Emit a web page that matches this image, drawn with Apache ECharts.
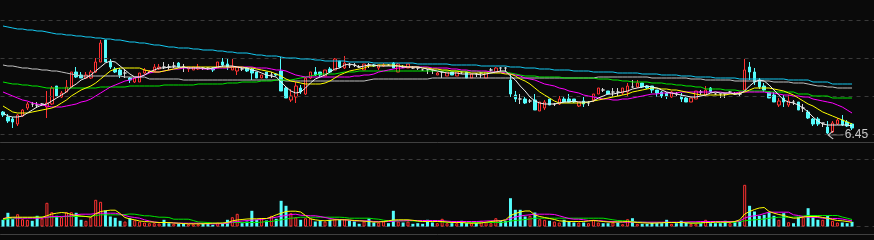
<!DOCTYPE html>
<html><head><meta charset="utf-8">
<script src="https://cdn.jsdelivr.net/npm/echarts@6/dist/echarts.min.js"></script>
<style>html,body{margin:0;padding:0;background:#0a0a0a;overflow:hidden}#c{width:874px;height:240px}</style>
</head><body><div id="c"></div>
<script>
// ---- data: [open, close, low, high] ----
const candles = [
[6.68,6.65,6.63,6.69],[6.63,6.59,6.57,6.66],[6.61,6.58,6.52,6.63],[6.56,6.65,6.54,6.66],[6.64,6.70,6.63,6.71],
[6.72,6.76,6.70,6.78],[6.76,6.76,6.73,6.78],[6.75,6.75,6.72,6.78],[6.76,6.76,6.74,6.77],[6.73,6.77,6.62,6.89],
[6.76,6.92,6.75,6.94],[6.94,6.84,6.84,6.94],[6.83,6.87,6.82,6.89],[6.88,6.93,6.88,7.00],[6.93,7.08,6.93,7.08],
[7.08,7.03,7.02,7.13],[7.05,7.02,7.02,7.08],[7.02,7.05,7.01,7.08],[7.02,7.08,7.01,7.10],[7.08,7.18,7.07,7.22],
[7.18,7.37,7.18,7.40],[7.40,7.18,7.18,7.40],[7.18,7.13,7.11,7.21],[7.11,7.08,7.07,7.13],[7.10,7.05,7.02,7.12],
[7.07,7.07,7.02,7.11],[7.02,7.00,6.97,7.03],[6.98,7.02,6.97,7.02],[6.98,7.07,6.98,7.07],[7.07,7.10,7.06,7.12],
[7.08,7.09,7.07,7.10],[7.09,7.13,7.08,7.16],[7.11,7.13,7.10,7.16],[7.13,7.13,7.11,7.18],[7.13,7.13,7.10,7.16],
[7.14,7.14,7.12,7.18],[7.17,7.13,7.12,7.18],[7.13,7.13,7.08,7.16],[7.11,7.13,7.08,7.13],[7.10,7.13,7.10,7.13],
[7.11,7.13,7.10,7.16],[7.12,7.12,7.10,7.13],[7.12,7.12,7.10,7.13],[7.12,7.10,7.08,7.13],[7.12,7.18,7.12,7.18],
[7.18,7.15,7.13,7.22],[7.16,7.13,7.10,7.22],[7.10,7.13,7.10,7.21],[7.09,7.13,7.05,7.13],[7.11,7.11,7.09,7.13],
[7.12,7.09,7.08,7.13],[7.11,7.07,7.00,7.12],[7.08,7.02,7.02,7.08],[7.02,7.05,7.02,7.05],[7.08,7.02,7.02,7.08],
[7.05,7.05,7.02,7.08],[7.06,7.05,7.04,7.07],[7.09,6.89,6.89,7.23],[6.92,6.82,6.82,6.93],[6.80,6.84,6.78,6.91],
[6.83,6.94,6.77,6.98],[6.92,6.88,6.86,6.95],[6.86,7.02,6.85,7.03],[7.02,7.08,7.01,7.08],[7.08,7.05,7.04,7.13],
[7.08,7.05,7.03,7.08],[7.04,7.10,7.04,7.10],[7.11,7.08,7.07,7.13],[7.10,7.21,7.10,7.22],[7.19,7.13,7.12,7.19],
[7.12,7.17,7.11,7.24],[7.15,7.15,7.12,7.17],[7.15,7.15,7.13,7.17],[7.13,7.13,7.12,7.15],[7.10,7.16,7.10,7.16],
[7.15,7.15,7.12,7.17],[7.15,7.14,7.13,7.16],[7.12,7.15,7.10,7.15],[7.14,7.15,7.13,7.17],[7.15,7.15,7.14,7.16],
[7.17,7.12,7.12,7.18],[7.08,7.16,7.08,7.17],[7.13,7.13,7.12,7.15],[7.12,7.16,7.12,7.16],[7.12,7.12,7.11,7.14],
[7.12,7.12,7.10,7.12],[7.10,7.10,7.09,7.11],[7.10,7.10,7.06,7.11],[7.10,7.10,7.06,7.10],[7.05,7.07,7.05,7.08],
[7.08,7.08,7.02,7.09],[7.04,7.08,7.04,7.08],[7.08,7.05,7.05,7.08],[7.04,7.08,7.04,7.08],[7.08,7.08,7.06,7.09],
[7.08,7.02,7.02,7.08],[7.02,7.06,7.02,7.06],[7.06,7.06,7.03,7.07],[7.07,7.07,7.02,7.08],[7.02,7.08,7.02,7.08],
[7.10,7.10,7.08,7.12],[7.08,7.12,7.08,7.13],[7.12,7.12,7.08,7.13],[7.12,7.12,7.08,7.13],[7.00,6.86,6.83,7.06],
[6.85,6.81,6.78,6.89],[6.81,6.81,6.76,6.86],[6.81,6.77,6.76,6.83],[6.79,6.79,6.77,6.81],[6.80,6.70,6.70,6.86],
[6.69,6.78,6.69,6.78],[6.72,6.78,6.70,6.80],[6.81,6.75,6.75,6.81],[6.76,6.76,6.74,6.77],[6.76,6.81,6.75,6.84],
[6.81,6.78,6.78,6.84],[6.81,6.78,6.78,6.86],[6.81,6.78,6.77,6.81],[6.74,6.78,6.73,6.78],[6.79,6.76,6.73,6.83],
[6.77,6.77,6.74,6.79],[6.80,6.86,6.78,6.86],[6.86,6.92,6.86,6.92],[6.90,6.90,6.88,6.92],[6.89,6.86,6.86,6.89],
[6.88,6.88,6.83,6.92],[6.88,6.88,6.83,6.92],[6.87,6.92,6.85,6.92],[6.88,6.94,6.84,6.97],[6.93,6.93,6.92,7.00],
[6.93,6.97,6.92,7.00],[6.97,6.93,6.92,6.97],[6.94,6.92,6.91,6.95],[6.94,6.90,6.87,6.94],[6.90,6.87,6.83,6.90],
[6.88,6.84,6.82,6.89],[6.87,6.84,6.81,6.88],[6.83,6.88,6.82,6.89],[6.86,6.86,6.84,6.88],[6.84,6.81,6.78,6.87],
[6.82,6.78,6.78,6.83],[6.78,6.82,6.78,6.82],[6.81,6.89,6.81,6.89],[6.88,6.88,6.85,6.90],[6.85,6.90,6.83,6.94],
[6.92,6.88,6.87,6.93],[6.86,6.86,6.85,6.87],[6.86,6.86,6.82,6.86],[6.86,6.86,6.82,6.86],[6.88,6.88,6.87,6.89],
[6.86,6.86,6.85,6.88],[6.86,6.86,6.84,6.88],[6.90,7.10,6.90,7.21],[7.13,7.08,7.00,7.18],[7.08,6.98,6.95,7.12],
[7.00,6.93,6.91,7.02],[6.94,6.90,6.88,6.97],[6.88,6.82,6.82,6.88],[6.85,6.78,6.78,6.88],[6.75,6.79,6.73,6.82],
[6.82,6.78,6.73,6.85],[6.75,6.79,6.73,6.85],[6.78,6.78,6.75,6.80],[6.78,6.70,6.70,6.78],[6.72,6.72,6.68,6.76],
[6.68,6.62,6.61,6.70],[6.61,6.56,6.54,6.62],[6.61,6.56,6.54,6.63],[6.57,6.57,6.53,6.57],[6.53,6.47,6.45,6.59],
[6.48,6.57,6.47,6.59],[6.56,6.60,6.55,6.62],[6.60,6.55,6.54,6.65],[6.58,6.54,6.53,6.60],[6.56,6.52,6.50,6.57]
];
const ma5 = [
6.67,6.64,6.63,6.63,6.64,6.67,6.70,6.73,6.75,6.76,6.79,6.82,6.85,6.88,6.93,6.96,7.00,7.02,7.05,7.09,7.13,7.17,7.19,7.18,7.14,
7.10,7.06,7.03,7.03,7.05,7.08,7.10,7.12,7.12,7.13,7.13,7.13,7.13,7.12,7.12,7.12,7.12,7.11,7.12,7.13,7.14,7.14,7.14,7.13,7.12,
7.12,7.10,7.09,7.07,7.05,7.04,7.03,6.98,6.93,6.89,6.87,6.88,6.92,6.97,7.01,7.03,7.05,7.08,7.11,7.12,7.15,7.16,7.15,7.13,7.14,
7.15,7.15,7.14,7.14,7.14,7.14,7.14,7.13,7.13,7.13,7.13,7.12,7.11,7.10,7.09,7.08,7.07,7.07,7.07,7.06,7.06,7.06,7.06,7.05,7.06,
7.07,7.08,7.09,7.09,7.04,7.00,6.94,6.89,6.83,6.79,6.77,6.76,6.76,6.76,6.77,6.78,6.78,6.79,6.78,6.78,6.78,6.79,6.82,6.84,6.86,
6.86,6.87,6.88,6.89,6.91,6.92,6.93,6.94,6.93,6.92,6.90,6.88,6.87,6.86,6.85,6.84,6.83,6.83,6.84,6.85,6.87,6.88,6.87,6.87,6.87,
6.86,6.86,6.89,6.94,6.98,7.00,6.99,6.95,6.90,6.85,6.80,6.78,6.77,6.75,6.72,6.68,6.63,6.59,6.56,6.55,6.55,6.55,6.55,6.55,6.54];
const ma10 = [
6.74,6.71,6.68,6.67,6.67,6.67,6.68,6.69,6.70,6.71,6.72,6.74,6.77,6.80,6.84,6.87,6.90,6.92,6.94,6.97,7.01,7.05,7.09,7.11,7.12,
7.12,7.12,7.12,7.12,7.10,7.09,7.08,7.08,7.09,7.10,7.11,7.12,7.13,7.13,7.13,7.13,7.13,7.13,7.13,7.13,7.13,7.13,7.13,7.13,7.13,
7.12,7.12,7.11,7.10,7.09,7.08,7.06,7.04,7.01,6.99,6.98,6.97,6.96,6.96,6.96,6.96,6.97,6.99,7.02,7.05,7.07,7.09,7.10,7.11,7.12,
7.14,7.14,7.15,7.15,7.15,7.15,7.14,7.14,7.13,7.13,7.13,7.12,7.12,7.11,7.11,7.10,7.10,7.09,7.09,7.08,7.08,7.07,7.07,7.07,7.07,
7.07,7.07,7.07,7.06,7.06,7.04,7.01,6.99,6.96,6.92,6.88,6.85,6.82,6.79,6.77,6.77,6.77,6.77,6.77,6.77,6.78,6.79,6.80,6.81,6.82,
6.83,6.84,6.85,6.86,6.88,6.89,6.90,6.91,6.92,6.92,6.91,6.91,6.90,6.90,6.89,6.88,6.87,6.86,6.85,6.85,6.85,6.85,6.85,6.85,6.86,
6.86,6.87,6.88,6.90,6.92,6.92,6.92,6.92,6.91,6.90,6.89,6.87,6.85,6.82,6.79,6.76,6.74,6.71,6.68,6.66,6.64,6.62,6.60,6.58,6.56];
const ma20 = [
6.88,6.86,6.84,6.82,6.80,6.79,6.77,6.76,6.75,6.74,6.73,6.73,6.73,6.74,6.75,6.76,6.78,6.79,6.81,6.84,6.87,6.90,6.93,6.95,6.97,
6.99,7.00,7.02,7.03,7.05,7.07,7.08,7.08,7.09,7.10,7.11,7.11,7.12,7.12,7.12,7.12,7.11,7.11,7.11,7.12,7.12,7.12,7.13,7.13,7.13,
7.13,7.13,7.12,7.12,7.12,7.11,7.10,7.10,7.09,7.07,7.05,7.04,7.03,7.03,7.03,7.03,7.03,7.03,7.03,7.03,7.03,7.03,7.04,7.04,7.05,
7.05,7.06,7.08,7.09,7.10,7.11,7.12,7.12,7.13,7.13,7.13,7.13,7.13,7.12,7.12,7.12,7.12,7.11,7.11,7.10,7.10,7.09,7.09,7.09,7.09,
7.08,7.08,7.08,7.07,7.06,7.05,7.04,7.02,7.01,7.00,6.98,6.96,6.95,6.94,6.92,6.91,6.89,6.88,6.87,6.85,6.84,6.83,6.82,6.81,6.81,
6.80,6.80,6.81,6.81,6.82,6.83,6.84,6.85,6.86,6.86,6.87,6.87,6.87,6.87,6.88,6.88,6.88,6.88,6.88,6.88,6.88,6.88,6.88,6.87,6.87,
6.87,6.88,6.88,6.88,6.88,6.88,6.88,6.87,6.87,6.86,6.85,6.85,6.84,6.84,6.83,6.83,6.81,6.80,6.79,6.78,6.77,6.75,6.73,6.70,6.67];
const ma60 = [
6.98,6.97,6.96,6.96,6.95,6.95,6.94,6.94,6.93,6.92,6.92,6.92,6.92,6.92,6.92,6.92,6.92,6.92,6.92,6.92,6.93,6.93,6.93,6.93,6.93,
6.93,6.94,6.94,6.94,6.94,6.94,6.94,6.94,6.95,6.95,6.95,6.95,6.95,6.95,6.95,6.96,6.96,6.96,6.96,6.96,6.96,6.97,6.97,6.97,6.98,
6.98,6.98,6.98,6.99,6.99,6.99,7.00,7.00,7.00,7.00,7.01,7.02,7.03,7.04,7.05,7.06,7.06,7.06,7.06,7.07,7.08,7.08,7.08,7.09,7.09,
7.09,7.09,7.09,7.09,7.09,7.09,7.09,7.09,7.09,7.09,7.09,7.09,7.09,7.09,7.09,7.09,7.09,7.09,7.09,7.09,7.09,7.09,7.09,7.08,7.08,
7.08,7.08,7.08,7.08,7.07,7.06,7.05,7.04,7.04,7.04,7.03,7.03,7.03,7.03,7.03,7.02,7.02,7.02,7.02,7.02,7.02,7.02,7.01,7.01,7.01,
7.00,7.00,6.99,6.99,6.98,6.98,6.98,6.98,6.97,6.97,6.97,6.96,6.96,6.95,6.95,6.94,6.94,6.93,6.93,6.91,6.91,6.91,6.91,6.90,6.90,
6.90,6.89,6.89,6.89,6.89,6.89,6.89,6.88,6.88,6.88,6.88,6.88,6.88,6.86,6.86,6.86,6.84,6.84,6.84,6.84,6.82,6.82,6.82,6.82,6.82];
const ma120 = [
7.15,7.14,7.14,7.13,7.12,7.12,7.11,7.11,7.10,7.10,7.09,7.09,7.08,7.07,7.06,7.05,7.04,7.04,7.04,7.04,7.04,7.04,7.04,7.04,7.04,
7.03,7.03,7.03,7.03,7.03,7.01,7.01,7.01,7.01,7.01,7.01,7.01,7.00,7.00,7.00,7.00,7.00,7.00,7.00,7.00,7.00,7.00,7.00,7.00,7.00,
7.00,7.00,7.00,7.00,7.00,7.00,7.00,7.00,6.99,6.99,6.99,6.99,6.99,6.99,6.99,6.99,6.99,6.99,6.99,6.99,6.99,6.99,6.99,6.99,6.99,
7.00,7.01,7.01,7.01,7.01,7.01,7.01,7.01,7.01,7.01,7.01,7.01,7.01,7.02,7.02,7.02,7.02,7.02,7.02,7.02,7.02,7.02,7.02,7.02,7.02,
7.02,7.02,7.02,7.02,7.02,7.02,7.02,7.02,7.02,7.02,7.02,7.02,7.02,7.02,7.02,7.02,7.02,7.02,7.02,7.02,7.02,7.02,7.03,7.03,7.03,
7.03,7.03,7.03,7.03,7.03,7.03,7.03,7.03,7.02,7.02,7.02,7.02,7.02,7.02,7.02,7.02,7.01,7.01,7.01,7.00,7.00,7.00,7.00,7.00,7.00,
6.99,6.99,6.99,6.99,6.99,6.99,6.99,6.99,6.98,6.98,6.98,6.98,6.97,6.97,6.97,6.96,6.95,6.94,6.94,6.93,6.93,6.92,6.92,6.92,6.92];
const ma250 = [
7.54,7.53,7.52,7.51,7.51,7.50,7.50,7.49,7.49,7.48,7.47,7.46,7.46,7.45,7.45,7.44,7.44,7.43,7.43,7.42,7.42,7.41,7.41,7.40,7.40,
7.39,7.38,7.38,7.37,7.37,7.36,7.35,7.35,7.34,7.33,7.33,7.32,7.32,7.32,7.31,7.31,7.30,7.30,7.30,7.29,7.29,7.28,7.28,7.27,7.27,
7.27,7.26,7.25,7.25,7.24,7.24,7.24,7.23,7.22,7.22,7.22,7.21,7.21,7.21,7.20,7.20,7.19,7.19,7.19,7.19,7.19,7.18,7.18,7.18,7.18,
7.18,7.17,7.17,7.17,7.17,7.17,7.17,7.17,7.17,7.17,7.16,7.16,7.16,7.16,7.16,7.16,7.16,7.15,7.15,7.15,7.15,7.15,7.15,7.14,7.14,
7.14,7.14,7.14,7.14,7.13,7.13,7.13,7.12,7.12,7.12,7.11,7.11,7.11,7.10,7.10,7.10,7.10,7.09,7.09,7.09,7.09,7.08,7.08,7.08,7.08,
7.08,7.07,7.07,7.07,7.07,7.07,7.06,7.06,7.06,7.06,7.05,7.05,7.05,7.05,7.04,7.04,7.04,7.03,7.03,7.03,7.03,7.02,7.02,7.02,7.02,
7.02,7.01,7.01,7.01,7.01,7.01,7.01,7.01,7.01,7.01,7.01,7.00,7.00,7.00,7.00,7.00,6.98,6.98,6.98,6.98,6.96,6.96,6.96,6.96,6.96];
const volume = [
6.7,13.7,7.3,12.3,7.3,6.7,5.7,10.7,8,23.7,14.3,10.7,9.3,14.3,14.3,13.7,6.7,5.7,9.3,26.7,24.7,16,10,8.7,5.7,
5,8.3,6.3,5,4,3.3,3.3,3,6.7,3.3,2.7,3,3,2.3,2.3,2.3,3,2.7,1.7,4,3.3,6.7,9.3,12.7,3.3,
5,15.7,6.7,8.3,6,10.7,7.7,25.7,20.7,13.3,9.3,6.7,8.3,8.3,5,5.7,5,6.7,7.3,6.7,7.3,6,5,2.7,5,
8,4,4,5,3.3,15.7,5,4,5,2.7,3.3,2.7,6.7,4,3.3,7.7,3.3,3.3,3.3,5.7,3.3,3.3,3.3,5.7,4.3,
3.3,8.3,5.7,5.7,28.3,16.7,16.7,10,10.7,14,7.3,6.7,5.7,5,4,6.7,5,4,4,4,3.3,6.7,4,3.3,3.3,
4,4,2.3,7.3,8.3,2.7,2.7,2.7,4,3.3,3.3,6.7,2.7,3.3,5.7,4,2.7,2.7,3.3,6.7,3.3,3.3,3.3,5.7,3.3,
4.3,5,41.7,20.7,15,10.7,11.7,14,10.7,6.7,13.3,4.3,3.3,9.3,9.3,18.3,9.3,6.7,6.7,10.7,5.7,4,4,3.3,4.7];
const volMa5 = [
7.5,9,9.3,9.3,9.3,9.3,9.3,9.3,9.3,10.7,12.5,13.3,14,13.5,12,11,10.5,10,9.3,12.7,15,15.7,16.3,16.3,13,
9,7.5,6.7,5.5,5,4.7,4.3,4,4,4,3.5,3.3,3,2.7,2.7,2.7,2.7,3,3.3,3.3,3.5,4,5.7,6.5,7,
7.5,7.7,7.7,8,8,9.5,11.7,13.3,15,15.3,15.3,14.5,11,7.7,6.7,6,5.7,6.2,6.7,6.7,6.7,6.5,6,5.7,5.3,
5,4.5,4.5,5,5.7,6.5,6.7,6.7,6.7,6.2,5.5,5,5,5,5,5,4.5,4,4,4,3.5,3.3,3.3,3.5,4.3,
5,5.5,5.7,6.7,11,13,14.5,15.5,15.5,11.5,10,9,8,7,5.7,5.3,5,5,5,5,5.5,6,5.5,5,4.5,
4.3,4.5,4.7,5,4.5,4,3.7,3.5,3.3,3.5,3.7,4,4,4,4,3.7,3.3,3.5,3.7,4,4,4.3,4.3,4.3,4.3,
5,6.7,12.5,15,17,18.5,19,15,13.3,12,11,9.5,8.3,8.5,9.5,10,10,10,9,8.3,7,6,5.7,5,4.3];
const volMa10 = [
8,9,8.7,8.3,8.3,8.3,8.3,8.3,8.3,9.3,10,10,10,10.3,10.7,11.7,12.3,12.3,12.3,13,13.3,13.3,13.3,13.3,12.3,
11,9.7,9,8.3,6.7,5.5,4.5,4,4,4,3.7,3.3,3.3,3.3,3.3,3.3,3,2.7,2.7,2.7,3,3.3,4.5,5,5.5,
6,6.3,6.7,7,8,8.5,9.3,10.3,11,12,12.3,11.3,11,10.7,10.7,10,9,8,7.3,7,6.7,6.3,5.7,5.7,5.7,
5.5,5,5,5,5,5.3,5.7,5.7,6,6,6,6,6,6,6,5.7,5.3,5,5,5,5,5,5,5.2,5.5,
5.7,5.7,5.7,6.5,8,9.5,10.5,11.2,11.7,12.3,12.3,12.3,12.3,12,10.7,9.3,8,7.3,7.3,6.7,6,6,6,5.5,5,
5,4.7,4.3,4.3,4.3,4.3,4.3,4.3,4.3,4.3,4.3,4.3,4.3,4.3,4.3,4.5,4.7,4.7,5,5,5,5,5,5,5,
5,5.5,8.5,10,10.7,11.5,13,14.3,14.3,14.3,14.3,14.3,11.7,11,10,9.3,9.3,9,8.3,8,8,8,7.5,6.5,5.7];
const volMa20 = [
6.7,7.5,8.3,8.5,8.7,9,9,9.3,9.3,9.3,9.3,9.5,9.7,10,10,10,10,10,10.3,11,11.7,11.7,11.7,11.7,11.7,
12,12.5,12.3,11.5,10.7,10.7,10,9.3,9.3,9,7.3,7.3,7.3,7.3,6,4.5,4.3,4,3.3,3.3,3.3,3.5,4,4,4,
4,4,4,4.3,5,5,6,6.7,7.5,8.3,8.7,9.3,9.3,9.3,9.3,9.3,9.3,9.3,9.3,9.3,9,8.3,8.3,8.3,8.3,
8.3,7.7,7.3,6.3,5.7,5.7,5.7,5.7,5.7,5.7,5.3,5,5,5,5,4.5,4.3,4.3,4.3,4.3,4.2,4,4,4,4,
4,4,4,4.5,5.5,6,6.5,7,7.5,8.3,8.3,8.3,8.3,8.3,8.3,8.3,8.3,8.3,8.3,8.3,8.3,8.3,8.3,8.3,7.5,
6.7,6,5.7,5.5,5,4.5,4.3,4,4,4,4,4,4,4,4,4,3.7,3.3,3.5,4.3,4.3,4.3,4.3,4.3,4.3,
4.3,5,5.7,6.3,6.7,7,7.5,8.3,8.7,9.3,9.3,9.3,9.3,9.7,10.5,11,11,11,11,11,11,11,9.5,8.3,7];
const priceGridLevels = [7.60, 7.22, 6.84, 6.46];
const priceRange = [6.38, 7.80];
const volumeRange = [0, 67];

const N = candles.length;
[ma5,ma10,ma20,ma60,ma120,ma250,volume,volMa5,volMa10,volMa20].forEach((a,k)=>{ if(a.length!==N) throw new Error('len mismatch '+k+': '+a.length); });
const days = candles.map((_, i) => String(i + 1));

const BG='#0a0a0a', RED='#ff3232', CYAN='#54fcfc', DOJI='#d6d6d6', GRIDC='#3a3a3a', FRAME='#404040';
const candleData = candles.map(c => c[0] === c[1]
  ? {value: c, itemStyle: {color: DOJI, color0: DOJI, borderColor: DOJI, borderColor0: DOJI}}
  : c);
const volData = volume.map((v, i) => {
  const c = candles[i];
  const up = c[1] > c[0] || (c[1] === c[0] && i > 0 && c[1] > candles[i-1][1]);
  return {value: v, itemStyle: up ? {color: BG, borderColor: RED, borderWidth: 1} : {color: CYAN, borderWidth: 0}};
});
let minIdx = 0;
candles.forEach((c, i) => { if (c[2] < candles[minIdx][2]) minIdx = i; });

const line = (data, color, xi, yi, z) => ({
  type: 'line', data, xAxisIndex: xi, yAxisIndex: yi, symbol: 'none', silent: true, z: z || 5,
  lineStyle: {color, width: 1}, itemStyle: {color}
});

const xCommon = {type: 'category', data: days, max: 178, boundaryGap: true,
  axisTick: {show: false}, axisLabel: {show: false}, splitLine: {show: false}};

const option = {
  backgroundColor: BG,
  animation: false,
  grid: [
    {left: 0.55, top: 0, width: 875.3, height: 142},
    {left: 0.55, top: 159.5, width: 875.3, height: 67}
  ],
  xAxis: [
    Object.assign({}, xCommon, {gridIndex: 0, axisLine: {show: true, onZero: false, lineStyle: {color: FRAME, width: 1}}}),
    Object.assign({}, xCommon, {gridIndex: 1, offset: 7.5, axisLine: {show: true, onZero: false, lineStyle: {color: FRAME, width: 1}}})
  ],
  yAxis: [
    {gridIndex: 0, type: 'value', min: priceRange[0], max: priceRange[1], show: true,
     axisLine: {show: false}, axisTick: {show: false}, axisLabel: {show: false}, splitLine: {show: false}},
    {gridIndex: 1, type: 'value', min: volumeRange[0], max: volumeRange[1], interval: volumeRange[1],
     axisLine: {show: false}, axisTick: {show: false}, axisLabel: {show: false},
     splitLine: {show: true, lineStyle: {color: GRIDC, type: [4, 4], width: 1}}}
  ],
  series: [
    {type: 'line', data: [], xAxisIndex: 0, yAxisIndex: 0, z: 1, silent: true,
     markLine: {silent: true, animation: false, symbol: ['none', 'none'], label: {show: false},
       lineStyle: {color: GRIDC, type: [4, 4], width: 1},
       data: priceGridLevels.map(v => ({yAxis: v}))}},
    {type: 'candlestick', data: candleData, xAxisIndex: 0, yAxisIndex: 0, barWidth: 3, z: 3, silent: true,
     itemStyle: {color: BG, color0: CYAN, borderColor: RED, borderColor0: CYAN, borderColorDoji: DOJI, borderWidth: 1},
     markPoint: {silent: true, animation: false,
       symbol: 'path://M5,0 L0,4 L5,8 M0,4 L15,4', symbolSize: [15, 8], symbolOffset: [8, 0],
       itemStyle: {color: 'transparent', borderColor: '#c8c8c8', borderWidth: 1},
       label: {show: true, position: 'right', distance: 1, color: '#c8c8c8', fontSize: 12,
         fontFamily: 'Liberation Sans, Arial, sans-serif', formatter: p => Number(p.value).toFixed(2)},
       data: [{coord: [minIdx, candles[minIdx][2]], value: candles[minIdx][2]}]}},
    line(ma250, '#14c8f0', 0, 0),
    line(ma120, '#c0c0c0', 0, 0),
    line(ma60, '#00e600', 0, 0),
    line(ma20, '#ff00ff', 0, 0),
    line(ma10, '#ffff00', 0, 0),
    line(ma5, '#f0f0f0', 0, 0),
    {type: 'bar', data: volData, xAxisIndex: 1, yAxisIndex: 1, barWidth: 3, silent: true, z: 3},
    line(volMa20, '#00e600', 1, 1),
    line(volMa10, '#ff00ff', 1, 1),
    line(volMa5, '#ffff00', 1, 1)
  ]
};
const chart = echarts.init(document.getElementById('c'), null, {renderer: 'canvas'});
chart.setOption(option);
</script>
</body></html>
